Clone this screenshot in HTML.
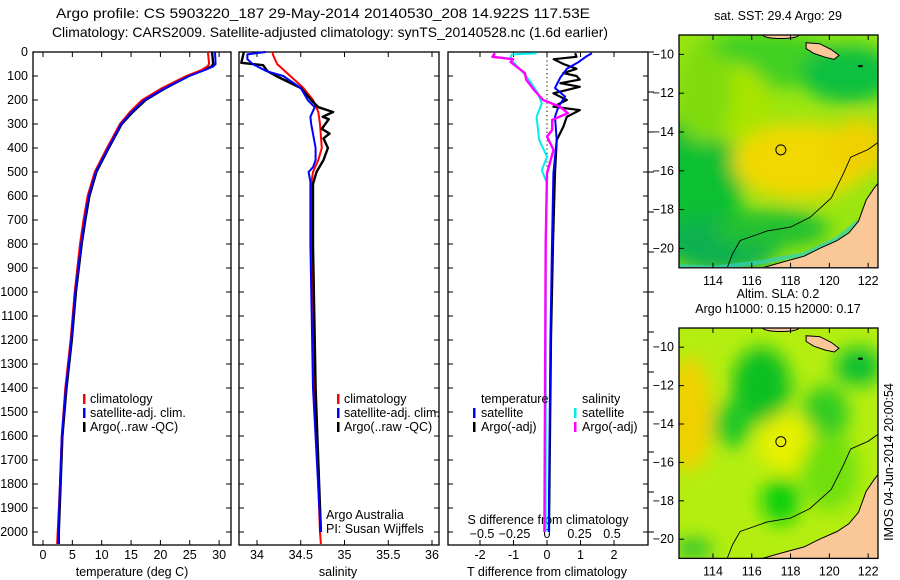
<!DOCTYPE html>
<html><head><meta charset="utf-8">
<style>
html,body{margin:0;padding:0;background:#fff;}
svg{display:block;font-family:"Liberation Sans",sans-serif;font-size:12.5px;}
</style></head>
<body>
<svg id="chart" width="900" height="580" viewBox="0 0 900 580">
<defs>
<filter id="blur1" x="-20%" y="-20%" width="140%" height="140%"><feGaussianBlur stdDeviation="9"/></filter>
<clipPath id="clipTop"><rect x="679" y="35" width="199" height="232"/></clipPath>
<clipPath id="clipBot"><rect x="679" y="328" width="199" height="230"/></clipPath>
</defs>
<text x="56" y="18" font-size="14" textLength="534" lengthAdjust="spacingAndGlyphs">Argo profile: CS 5903220_187 29-May-2014 20140530_208 14.922S 117.53E</text>
<text x="52" y="37" font-size="14" textLength="556" lengthAdjust="spacingAndGlyphs">Climatology: CARS2009. Satellite-adjusted climatology: synTS_20140528.nc (1.6d earlier)</text>
<g id="axes"></g>
<g id="maps"></g>
<text transform="translate(893,462) rotate(-90)" text-anchor="middle" font-size="12.5">IMOS 04-Jun-2014 20:00:54</text>
</svg>
<script>
// ---- data ----
const tDepth = [0,50,60,75,100,150,200,250,300,400,500,600,700,800,1000,1200,1400,1600,1800,2000,2050];
const tClim  = [28.1,28.3,28.0,27.0,24.4,20.3,16.9,14.8,13.1,10.9,8.8,7.6,6.9,6.3,5.4,4.7,3.8,3.2,2.9,2.5,2.4];
const tSat   = [29.3,29.4,29.0,27.6,24.9,20.8,17.3,15.1,13.3,11.1,9.0,7.8,7.1,6.5,5.5,4.8,3.9,3.2,2.9,2.6,2.6];
const tArgo  = [28.8,29.0,28.7,27.4,24.8,20.9,17.5,15.3,13.4,11.2,9.1,7.9,7.2,6.6,5.6,4.9,4.0,3.3,3.0,2.7,2.7];

const sDepthClim = [0,10,50,100,150,200,250,300,400,450,500,550,800,1400,2000,2050];
const sClim      = [34.18,34.18,34.23,34.38,34.53,34.64,34.70,34.72,34.74,34.70,34.64,34.62,34.62,34.66,34.72,34.73];
const sDepthSat  = [0,10,30,50,80,100,150,200,230,270,300,400,450,480,500,540,800,1400,1950,2000];
const sSat       = [34.10,33.89,33.89,33.95,34.11,34.30,34.50,34.58,34.66,34.61,34.62,34.67,34.67,34.64,34.59,34.61,34.61,34.64,34.72,34.72];
const sDepthArgo = [0,45,55,80,100,150,200,230,250,270,280,320,340,360,400,450,500,550,800,1400,2000];
const sArgo      = [33.85,33.82,34.07,34.12,34.22,34.50,34.62,34.70,34.87,34.75,34.82,34.74,34.83,34.76,34.81,34.76,34.68,34.64,34.64,34.67,34.73];

const dDepthT = [5,20,30,50,70,88,100,115,130,145,172,200,228,242,270,311,367,505,800,1200,2000];
const dTArgo  = [0.84,0.88,0.20,0.49,0.88,0.49,0.88,0.98,0.40,0.98,0.19,0.59,0.19,0.98,0.59,0.49,0.29,0.24,0.18,0.12,0.06];
const dDepthTS = [5,17,42,70,108,150,186,228,270,367,505,800,1200,2000];
const dTSat    = [1.34,1.19,0.94,0.59,0.39,0.24,0.54,0.34,0.24,0.29,0.19,0.15,0.10,0.05];
const dDepthS  = [5,10,20,42,88,130,172,214,270,367,436,492,547,800,2000];
const dSSat    = [-0.08,-0.27,-0.28,-0.26,-0.18,-0.12,-0.07,-0.04,-0.08,-0.06,0.0,-0.04,0.0,-0.01,-0.01];
const dDepthSA = [5,20,30,42,88,115,158,200,228,255,283,325,352,408,505,800,2000];
const dSArgo   = [-0.40,-0.42,-0.26,-0.28,-0.17,-0.16,-0.10,-0.03,0.10,0.16,0.04,0.04,0.0,0.05,0.0,-0.01,-0.02];

const depthTicks = [0,100,200,300,400,500,600,700,800,900,1000,1100,1200,1300,1400,1500,1600,1700,1800,1900,2000];
const tTicks = [0,5,10,15,20,25,30];
const sTicks = [34,34.5,35,35.5,36];
const sTickLabels = ["34","34.5","35","35.5","36"];
const dTTicks = [-2,-1,0,1,2];
const dSTicks = [-0.5,-0.25,0,0.25,0.5];
const latTicks = [-10,-12,-14,-16,-18,-20];
const lonTicks = [114,116,118,120,122];

// ---- scales ----
const TOP=52, BOT=545;
const yD = d => TOP + d*0.24;
const xT = v => 43 + v*5.87;
const xS = v => 257 + (v-34)*87.5;
const xDT = v => 547 + v*33.5;
const xDS = v => 547 + v*130;

const NS="http://www.w3.org/2000/svg";
const axes=document.getElementById('axes');
function mk(tag,attrs,parent){const e=document.createElementNS(NS,tag);for(const k in attrs)e.setAttribute(k,attrs[k]);(parent||axes).appendChild(e);return e;}
function txt(x,y,s,anchor,parent){const e=mk('text',{x:x,y:y,'text-anchor':anchor||'middle'},parent);e.textContent=s;return e;}
function stepPath(depths,vals,xf){
  let d='';
  for(let i=0;i<depths.length;i++){
    const x=xf(vals[i]).toFixed(1), y=yD(depths[i]).toFixed(1);
    d+=(i?'L':'M')+x+' '+y;
  }
  return d;
}

const panels=[{x:33,w:198,name:'temperature'},{x:239,w:200,name:'salinity'},{x:448,w:200,name:'difference'}];
panels.forEach(p=>{
  const r=mk('rect',{x:p.x,y:TOP,width:p.w,height:BOT-TOP,fill:'#fff',stroke:'#000','stroke-width':1.3});
  
  
  depthTicks.forEach(d=>{
    mk('line',{x1:p.x,x2:p.x+5,y1:yD(d),y2:yD(d),stroke:'#000'});
    mk('line',{x1:p.x+p.w-5,x2:p.x+p.w,y1:yD(d),y2:yD(d),stroke:'#000'});
  });
});
depthTicks.forEach(d=>{
  const t=txt(28,yD(d)+4,String(d),'end');
  
  
});
for(let k=0;k<13;k++){ mk('line',{x1:648,x2:654,y1:TOP+k*40,y2:TOP+k*40,stroke:'#000'}); }

function xaxis(ticks,labels,xf,ly){
  ticks.forEach((v,i)=>{
    const x=xf(v);
    mk('line',{x1:x,x2:x,y1:BOT,y2:BOT-5,stroke:'#000'});
    mk('line',{x1:x,x2:x,y1:TOP,y2:TOP+5,stroke:'#000'});
    const t=txt(x,ly,labels[i]);
    
    
  });
}
xaxis(tTicks,tTicks.map(String),xT,559);
xaxis(sTicks,sTickLabels,xS,559);
xaxis(dTTicks,dTTicks.map(String),xDT,559);
dSTicks.forEach(v=>{
  const t=txt(xDS(v),538,v===0?'0':(v<0?'\u2212'+String(-v):String(v)));
  
  
});

[[132,'temperature (deg C)','temperature-axis-title'],[338,'salinity','salinity-axis-title'],[547,'T difference from climatology','t-diff-axis-title']].forEach(a=>{
  const t=txt(a[0],576,a[1]);
  
  
});
const sdt=txt(548,524,'S difference from climatology');



mk('line',{x1:547,x2:547,y1:TOP,y2:yD(620),stroke:'#000','stroke-dasharray':'1.2 3'});

function series(depths,vals,xf,color,name,w){
  const p=mk('path',{d:stepPath(depths,vals,xf),fill:'none',stroke:color,'stroke-width':w||2,'stroke-linejoin':'round'});
  
  
}
series(tDepth,tArgo,xT,'#000','temp-argo-line',2.4);
series(tDepth,tClim,xT,'#f00','temp-clim-line',2);
series(tDepth,tSat,xT,'#00f','temp-sat-line',2);
series(sDepthClim,sClim,xS,'#f00','sal-clim-line',2);
series(sDepthArgo,sArgo,xS,'#000','sal-argo-line',2.4);
series(sDepthSat,sSat,xS,'#00f','sal-sat-line',2);
series(dDepthS,dSSat,xDS,'#0ee','s-diff-sat-line',2);
series(dDepthT,dTArgo,xDT,'#000','t-diff-argo-line',2.2);
series(dDepthTS,dTSat,xDT,'#00f','t-diff-sat-line',2);
series(dDepthSA,dSArgo,xDS,'#f0f','s-diff-argo-line',2.4);

function legend(mx,tx,y,color,label,name){
  mk('rect',{x:mx,y:y-9,width:2.5,height:10,fill:color});
  const t=txt(tx,y,label,'start');
  
  
}
legend(83,90,403,'#f00','climatology','legend-climatology');
legend(83,90,417,'#00f','satellite-adj. clim.','legend-satellite-adj');
legend(83,90,431,'#000','Argo(..raw -QC)','legend-argo');
legend(337,344,403,'#f00','climatology','legend-climatology-2');
legend(337,344,417,'#00f','satellite-adj. clim.','legend-satellite-adj-2');
legend(337,344,431,'#000','Argo(..raw -QC)','legend-argo-2');
txt(481,403,'temperature','start');
txt(582,403,'salinity','start');
legend(473,481,417,'#00f','satellite','legend-t-satellite');
legend(473,481,431,'#000','Argo(-adj)','legend-t-argo');
legend(574,582,417,'#0ee','satellite','legend-s-satellite');
legend(574,582,431,'#f0f','Argo(-adj)','legend-s-argo');
txt(326,519,'Argo Australia','start');
txt(326,533,'PI: Susan Wijffels','start');

// ---- maps ----
const maps=document.getElementById('maps');
const landPoly=[[122.7,-16.4],[122.3,-16.9],[121.9,-17.5],[121.5,-18.6],[121.0,-19.2],[120.4,-19.6],[119.5,-20.0],[118.7,-20.4],[117.6,-20.7],[116.2,-21.1],[122.7,-21.1]];
const islandPoly=[[118.8,-9.4],[119.5,-9.45],[120.1,-9.75],[120.5,-10.05],[120.25,-10.25],[119.8,-10.15],[119.2,-9.95],[118.8,-9.7]];
const contour=[[114.7,-21.1],[115.0,-20.3],[115.4,-19.6],[116.8,-19.1],[118.0,-18.9],[119.0,-18.4],[120.1,-17.4],[120.7,-16.2],[121.1,-15.3],[122.0,-14.9],[122.7,-14.4]];
function drawMap(y0,ppd,clip,title,blobs,base,name,coastBand){
  const g=mk('g',{},maps);
  
  
  const X=l=>679+(l-112.25)*19.4, Y=l=>y0+(-9-l)*ppd;
  const inner=mk('g',{'clip-path':'url(#'+clip+')'},g);
  mk('rect',{x:679,y:y0,width:199,height:ppd*12+1,fill:base},inner);
  const bg=mk('g',{filter:'url(#blur1)'},inner);
  blobs.forEach(b=>mk('ellipse',{cx:X(b[0]),cy:Y(b[1]),rx:b[2]*19.4,ry:b[3]*ppd,fill:b[4]},bg));
  const pts=a=>a.map(p=>X(p[0]).toFixed(1)+','+Y(p[1]).toFixed(1)).join(' ');
  if(coastBand){
    mk('polyline',{points:pts([[112,-20.9],[114,-21.0],[116.5,-20.7],[118.7,-20.3],[120.4,-19.5],[121.5,-18.6]]),fill:'none',stroke:'#30d0c0','stroke-width':4,opacity:0.7},inner);
  }
  mk('polygon',{points:pts(landPoly),fill:'#fac898',stroke:'#000','stroke-width':1},inner);
  mk('polygon',{points:pts(islandPoly),fill:'#fac898',stroke:'#000','stroke-width':1},inner);
  mk('ellipse',{cx:X(121.6),cy:Y(-10.6),rx:2.5,ry:1.2,fill:'#000'},inner);
  mk('ellipse',{cx:X(117.5),cy:Y(-9),rx:18,ry:3.5,fill:'#fac898',stroke:'#000'},inner);
  mk('polyline',{points:pts(contour),fill:'none',stroke:'#000','stroke-width':0.9},inner);
  mk('circle',{cx:X(117.5),cy:Y(-14.92),r:5,fill:'none',stroke:'#000'},inner);
  mk('rect',{x:679,y:y0,width:199,height:ppd*12,fill:'none',stroke:'#000','stroke-width':1.3},g);
  latTicks.forEach(l=>{mk('line',{x1:679,x2:684,y1:Y(l),y2:Y(l),stroke:'#000'},g);txt(674,Y(l)+4,String(l).replace('-','\u2212'),'end',g);});
  lonTicks.forEach(l=>{mk('line',{x1:X(l),x2:X(l),y1:y0+ppd*12,y2:y0+ppd*12-5,stroke:'#000'},g);mk('line',{x1:X(l),x2:X(l),y1:y0,y2:y0+5,stroke:'#000'},g);txt(X(l),y0+ppd*12+17,String(l),'middle',g);});
  title.forEach((t,i)=>txt(778,y0-15+i*15-(title.length-1)*15,t,'middle',g));
}
drawMap(35,19.4,'clipTop',['sat. SST: 29.4  Argo: 29'],[
  [116.5,-10.3,4,1.5,'#40d020'],[121,-11,2.5,1.5,'#10c040'],[113,-17,2.5,4,'#10c030'],[114.5,-19.8,3,1.5,'#10b050'],
  [118.5,-15.5,3.5,2,'#f0d800'],[121.5,-14.8,1.5,1.5,'#f0d000'],[115,-12.5,2,2,'#a8e400'],[117,-19,3,1,'#20c030'],[113.5,-12,1.5,2.5,'#80dc10']
],'#9ae610','sst-map',true);
drawMap(328,19.2,'clipBot',['Altim. SLA: 0.2','Argo h1000: 0.15 h2000: 0.17'],[
  [112.8,-13.5,1.2,3,'#f0d000'],[116.5,-12,1.5,2,'#10c020'],[115,-14,1,1.2,'#20c828'],[119.8,-13.5,1.2,1.5,'#30cc20'],
  [121.5,-11,1.2,1,'#10c030'],[117.5,-18,1,1.2,'#10d010'],[117.8,-15,1.5,1.5,'#e8f000'],[120,-16.5,1.5,2,'#70e010'],[113,-20.5,1,0.5,'#20c030']
],'#b4ee10','sla-map',false);
</script>
</body></html>
